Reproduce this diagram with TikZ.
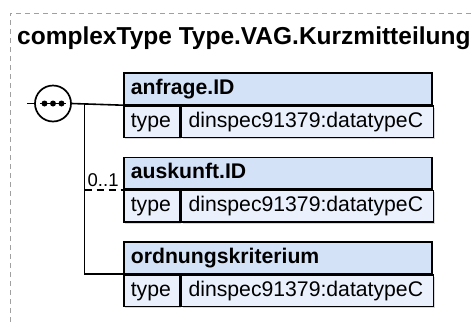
\documentclass[tikz,border=0pt]{standalone}
\usepackage{fontspec}
\setmainfont{Liberation Sans}
\usetikzlibrary{shadows}
\definecolor{hdrfill}{HTML}{D4E2F7}
\definecolor{rowfill}{HTML}{EAF1FC}
\definecolor{framegray}{HTML}{A0A0A0}
\begin{document}
\begin{tikzpicture}[x=1pt,y=-1pt,
  cell/.style={draw=black, line width=1.7pt, rectangle, inner ysep=0pt, inner xsep=7pt,
    minimum height=31.5pt, anchor=north west, align=left,
    text height=15.5pt, text depth=4.5pt,
    drop shadow={shadow xshift=1.5pt, shadow yshift=-1.5pt, fill=black!30}},
  hdr/.style={cell, fill=hdrfill, text width=294pt, font=\fontsize{21.2}{24}\selectfont\bfseries},
  keycell/.style={cell, fill=rowfill, text width=42pt, font=\fontsize{21.2}{24}\selectfont},
  valcell/.style={cell, fill=rowfill, text width=238pt, font=\fontsize{21.2}{24}\selectfont},
  conn/.style={draw=black, line width=1.6pt},
  framestyle/.style={draw=framegray, line width=0.9pt, dash pattern=on 5pt off 4pt}
]
\useasboundingbox (0,0) rectangle (476,322);
% frame
\draw[framestyle] (10,322) -- (10,13) -- (472,13);
% title
\node[anchor=base west, inner sep=0pt, font=\fontsize{24.5}{28}\selectfont\bfseries] (title) at (17,44) {complexType Type.VAG.Kurzmitteilung};
% boxes
\node[hdr] (Ah) at (123,72) {anfrage.ID};
\node[keycell] (Ak) at (Ah.south west) {type};
\node[valcell] (Av) at (Ak.north east) {dinspec91379:datatypeC};
\node[hdr] (Bh) at (123,156.5) {auskunft.ID};
\node[keycell] (Bk) at (Bh.south west) {type};
\node[valcell] (Bv) at (Bk.north east) {dinspec91379:datatypeC};
\node[hdr] (Ch) at (123,241) {ordnungskriterium};
\node[keycell] (Ck) at (Ch.south west) {type};
\node[valcell] (Cv) at (Ck.north east) {dinspec91379:datatypeC};
% sequence symbol
\node[circle, draw=black, line width=1.7pt, fill=white, minimum size=36pt, inner sep=0pt] (seq) at (53,103.5) {};
\draw[conn] (40,103.5) -- (66,103.5);
\foreach \dx in {44.5,53,61.5} \fill (\dx,103.5) circle (3pt);
\coordinate (in) at (27,103.5);
\coordinate (j) at (84.5,103.5);
% connectors
\draw[conn] (in) -- (seq.west);
\draw[conn] (seq.east) -- (Ah.south west);
\draw[conn] (j) |- (Ch.south west);
\draw[conn, dash pattern=on 7pt off 5pt] (j |- Bh.south west) -- (Bh.south west);
\node[anchor=base west, inner sep=0pt, font=\fontsize{18.5}{20}\selectfont] (m) at (87.5,186) {0..1};
\end{tikzpicture}
\end{document}
